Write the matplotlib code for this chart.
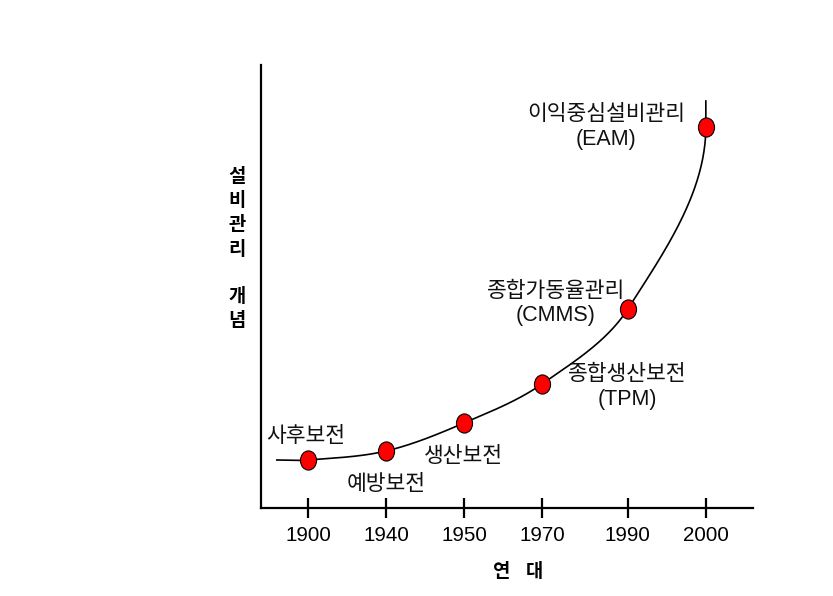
import numpy as np
import matplotlib
matplotlib.use('Agg')
import matplotlib.pyplot as plt
from matplotlib.path import Path
from matplotlib.transforms import Affine2D

# ---------------- data ----------------
years = ['1900', '1940', '1950', '1970', '1990', '2000']
stages = ['사후보전', '예방보전', '생산보전',
          '종합생산보전\n(TPM)', '종합가동율관리\n(CMMS)', '이익중심설비관리\n(EAM)']
concept_level = [48, 57, 85, 124, 199, 381]       # relative "equipment management concept" level
curve_start = (0.6, 48)                            # tail of the curve before 1900
curve_end_level = 407                              # tail of the curve above 2000

# ---------------- layout ----------------
x_pos = [1, 2, 3, 4, 5.1, 6.1]
label_offsets = [(-2, 23), (0, -34), (-1, -33), (85, -3), (-72, 5.5), (-100, 0)]  # pixels
PX_PER_X = 78.0

plt.rcParams['font.family'] = ['Liberation Sans', 'Noto Sans CJK KR']

W, H = 833, 596
fig = plt.figure(figsize=(W / 100, H / 100), dpi=100)
ax = fig.add_axes([261 / W, 1 - 508 / H, (753 - 261) / W, (508 - 65) / H])
ax.set_xlim(0.397, 0.397 + (753 - 261) / PX_PER_X)
ax.set_ylim(0, 443)

for s in ['top', 'right']:
    ax.spines[s].set_visible(False)
for s in ['left', 'bottom']:
    ax.spines[s].set_linewidth(1.6)
ax.set_yticks([])
ax.set_xticks(x_pos, years)
ax.tick_params(axis='x', direction='inout', length=14.5, width=1.6, pad=5.5, labelsize=14.8)


def g1_spline(pts, tangents, n=80):
    """Cubic Hermite through pts with given unit tangent directions;
    tangent magnitude = chord length of each segment."""
    pts = np.asarray(pts, float)
    out = []
    t = np.linspace(0, 1, n)[:, None]
    h00 = 2 * t**3 - 3 * t**2 + 1
    h10 = t**3 - 2 * t**2 + t
    h01 = -2 * t**3 + 3 * t**2
    h11 = t**3 - t**2
    for i in range(len(pts) - 1):
        p0, p1 = pts[i], pts[i + 1]
        L = np.linalg.norm(p1 - p0)
        out.append(h00 * p0 + h10 * L * tangents[i] + h01 * p1 + h11 * L * tangents[i + 1])
    return np.vstack(out)


# curve through the points (computed in an isotropic pixel-like space)
xs = [curve_start[0]] + x_pos
ys = [curve_start[1]] + concept_level
P = np.column_stack([np.array(xs) * PX_PER_X, ys])
tang = []
for i in range(len(P)):
    if i == 0:
        d = P[1] - P[0]
    elif i == len(P) - 1:
        d = np.array([0.0, 1.0])          # curve turns vertical at the last point
    else:
        d = P[i + 1] - P[i - 1]
    tang.append(d / np.linalg.norm(d))
cur = g1_spline(P, tang)
cur = np.vstack([cur, [[x_pos[-1] * PX_PER_X, curve_end_level]]])
ax.plot(cur[:, 0] / PX_PER_X, cur[:, 1], color='black', lw=1.2, zorder=2)

# elliptical markers
circ = Path.unit_circle()
ell = Affine2D().scale(0.84, 1.0).transform_path(circ)
ax.plot(x_pos, concept_level, linestyle='none', marker=ell, markersize=13.8,
        markerfacecolor='#ff0000', markeredgecolor='black', markeredgewidth=0.8, zorder=3)

for x, y, txt, (dx, dy) in zip(x_pos, concept_level, stages, label_offsets):
    ax.annotate(txt, (x, y), xytext=(dx, dy), textcoords='offset pixels',
                ha='center', va='center', fontsize=15.5, linespacing=1.2,
                color='#111111')

# axis titles
fig.text(237 / W, 1 - 249 / H, '설\n비\n관\n리\n \n개\n념', ha='center', va='center',
         fontsize=13.5, fontweight='bold', linespacing=1.45)
fig.text(518 / W, 1 - 572 / H, '연   대', ha='center', va='center',
         fontsize=13.5, fontweight='bold')

fig.savefig('out.png', dpi=100)
